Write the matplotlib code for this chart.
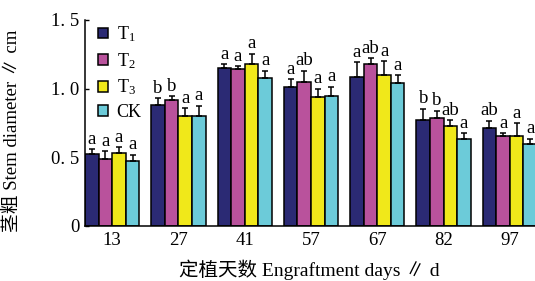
import numpy as np
import matplotlib
matplotlib.use("Agg")
import matplotlib.pyplot as plt

plt.rcParams['font.family'] = ['Liberation Serif', 'Noto Sans CJK SC', 'DejaVu Sans']
plt.rcParams['mathtext.default'] = 'regular'

# data
days = ["13", "27", "41", "57", "67", "82", "97"]
series = ["T$_1$", "T$_2$", "T$_3$", "CK"]
colors = ["#2b2a74", "#b9529c", "#f0e81a", "#6ccbd9"]

t1 = [0.525, 0.88, 1.15, 1.01, 1.085, 0.774, 0.717]
t2 = [0.487, 0.92, 1.14, 1.05, 1.18, 0.79, 0.655]
t3 = [0.53, 0.80, 1.18, 0.94, 1.10, 0.73, 0.657]
ck = [0.47, 0.80, 1.08, 0.95, 1.04, 0.633, 0.60]

t1_err = [0.035, 0.05, 0.03, 0.06, 0.11, 0.08, 0.05]
t2_err = [0.06, 0.025, 0.025, 0.08, 0.04, 0.05, 0.02]
t3_err = [0.045, 0.06, 0.075, 0.06, 0.10, 0.04, 0.09]
ck_err = [0.05, 0.075, 0.05, 0.065, 0.06, 0.043, 0.035]

t1_sig = ["a", "b", "a", "a", "a", "b", "ab"]
t2_sig = ["a", "b", "a", "ab", "ab", "b", "a"]
t3_sig = ["a", "a", "a", "a", "a", "ab", "a"]
ck_sig = ["a", "a", "a", "a", "a", "a", "a"]

values = [t1, t2, t3, ck]
errors = [t1_err, t2_err, t3_err, ck_err]
sigs = [t1_sig, t2_sig, t3_sig, ck_sig]

fig = plt.figure(figsize=(5.35, 2.81), dpi=100)
ax = fig.add_axes([85 / 535, 55 / 281, 458 / 535, 206 / 281])

x = np.arange(len(days))
w = 0.205

for i in range(4):
    pos = x + (i - 1.5) * w
    ax.bar(pos, values[i], w, color=colors[i], edgecolor="black",
           linewidth=1.1, label=series[i], zorder=2)
    ax.errorbar(pos, values[i], yerr=[np.zeros(len(days)), errors[i]],
                fmt="none", ecolor="black", elinewidth=1.1, capsize=2.5,
                capthick=1.1, zorder=3)
    for j in range(len(days)):
        ax.text(pos[j], values[i][j] + errors[i][j] + 0.01, sigs[i][j],
                ha="center", va="bottom", fontsize=13.5)

ax.set_xlim(-0.41, 6.5)
ax.set_ylim(0, 1.5)
ax.set_xticks(x)
ax.set_xticklabels(days, fontsize=13.5)
ax.set_yticks([0, 0.5, 1.0, 1.5])
ax.set_yticklabels(["0", "0. 5", "1. 0", "1. 5"], fontsize=13.5)
ax.tick_params(axis="x", length=0, pad=4)
ax.tick_params(axis="y", direction="in", length=3, width=1, pad=4)

ax.spines["top"].set_visible(False)
ax.spines["right"].set_visible(False)
ax.spines["left"].set_linewidth(1.1)
ax.spines["bottom"].set_linewidth(1.1)

ax.set_xlabel("定植天数 Engraftment days ∥ d", fontsize=14, va="center")
ax.xaxis.set_label_coords(0.49, -0.212)
ax.set_ylabel("茎粗 Stem diameter ∥ cm", fontsize=13.5, va="center")
ax.yaxis.set_label_coords(-0.158, 0.46)

ax.legend(loc="upper left", bbox_to_anchor=(0.0, 1.04), frameon=False,
          fontsize=13, handlelength=0.55, handleheight=0.55,
          handletextpad=0.5, labelspacing=0.38, borderaxespad=0.3)

fig.savefig("out.png", dpi=100)
